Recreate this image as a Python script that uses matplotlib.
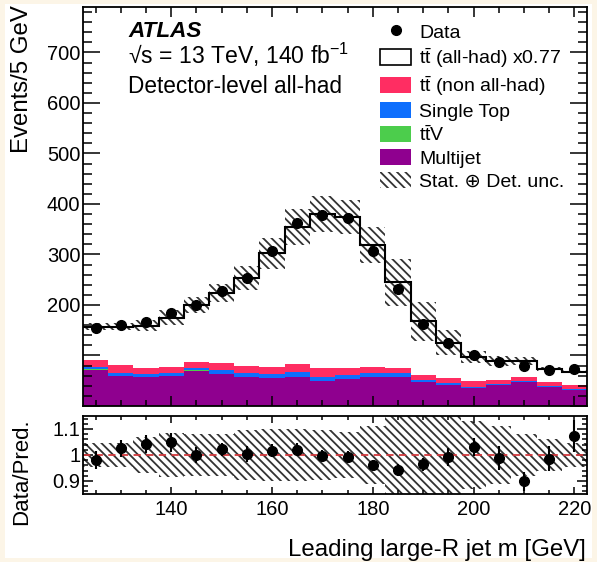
import numpy as np
import matplotlib
matplotlib.use("Agg")
import matplotlib.pyplot as plt
from matplotlib.patches import Patch, Rectangle
from matplotlib.lines import Line2D
from matplotlib.ticker import MultipleLocator, FuncFormatter, FixedLocator, FixedFormatter

plt.rcParams['font.family'] = ['Liberation Sans', 'DejaVu Sans']
plt.rcParams['mathtext.fontset'] = 'custom'
plt.rcParams['mathtext.rm'] = 'Liberation Sans'
plt.rcParams['mathtext.it'] = 'Liberation Sans:italic'
plt.rcParams['mathtext.bf'] = 'Liberation Sans:bold'
plt.rcParams['hatch.linewidth'] = 1.3

# ---- binning (leading large-R jet mass, 5 GeV bins) ----
bin_edges = np.arange(122.5, 223.0, 5.0)

# ---- predicted yields per bin (stacked) ----
multijet = [72, 60, 57, 59, 70, 64, 57, 55, 57, 50, 54, 57, 57, 48, 42, 35, 42, 48, 37, 32]
ttv = [0.3, 0.3, 0.3, 0.3, 0.3, 0.3, 0.3, 0.3, 0.3, 0.3, 0.3, 0.3, 0.3, 0.3, 0.3, 0.3, 0.3,
       0.3, 0.3, 0.3]
single_top = [5.7, 5.7, 5.7, 5.7, 5.7, 6.7, 8.7, 7.7, 10.7, 6.7, 6.7, 8.7, 7.7, 2.7, 2.7, 2.7,
              1.7, 1.7, 1.7, 1.7]
tt_nonallhad = [13, 15, 12, 13, 12, 13.5, 14, 15, 14.5, 18, 14, 12, 10, 10, 10, 11.5, 7, 8, 8,
                7.6]
tt_allhad_scaled = [66, 76, 84, 97, 112, 138.5, 173, 224, 272.5, 305, 300, 241, 170, 107, 70,
                    47.5, 38, 31, 26, 26.4]

# relative stat. (+) detector uncertainty on the total prediction
rel_unc = [0.045, 0.045, 0.07, 0.085, 0.08, 0.08, 0.095, 0.10, 0.10, 0.095, 0.09, 0.11, 0.19,
           0.23, 0.20, 0.13, 0.11, 0.08, 0.06, 0.045]

# ---- observed data ----
data = [154, 161, 166, 183.5, 200, 228, 254, 307, 362, 379, 372, 307, 231, 162, 124, 100, 88,
        80, 72, 73]
data_err = [5.4, 5.3, 5.5, 6.4, 6.4, 5.7, 7.6, 7.7, 9.0, 8.3, 8.2, 6.1, 5.8, 4.1, 4.3, 3.5,
            4.0, 3.2, 3.5, 4.2]

labels = ["Data", r"$\mathrm{t}\bar{\mathrm{t}}$ (all-had) x0.77",
          r"$\mathrm{t}\bar{\mathrm{t}}$ (non all-had)", "Single Top",
          r"$\mathrm{t}\bar{\mathrm{t}}$V", "Multijet", "Stat. \u2295 Det. unc."]
colors = {"multijet": "#8f008f", "ttv": "#4ccd4c", "single_top": "#0d6efd",
          "tt_nonallhad": "#ff2d62"}

centers = 0.5 * (bin_edges[:-1] + bin_edges[1:])
data = np.array(data, float)
data_err = np.array(data_err, float)
rel_unc = np.array(rel_unc, float)

W, H = 597, 562
fig = plt.figure(figsize=(W / 100, H / 100), dpi=100)
fig.patch.set_facecolor("#fcf5e7")
fig.add_artist(Rectangle((5 / W, 4 / H), (W - 10) / W, (H - 8) / H, transform=fig.transFigure,
                         facecolor="white", edgecolor="none", zorder=-10))

def px_axes(l, t, r, b):
    return fig.add_axes([l / W, (H - b) / H, (r - l) / W, (b - t) / H])

ax = px_axes(83, 7, 587, 406)
rax = px_axes(83, 416, 587, 494)

# ---- stacked prediction ----
stack = [("multijet", multijet), ("ttv", ttv), ("single_top", single_top),
         ("tt_nonallhad", tt_nonallhad)]
base = np.zeros(len(centers))
for name, vals in stack:
    top = base + np.array(vals, float)
    ax.stairs(top, bin_edges, baseline=base.copy(), fill=True, color=colors[name],
              linewidth=0, zorder=1)
    base = top
total = base + np.array(tt_allhad_scaled, float)

hatch = "\\\\\\\\"
hcol = "#333333"
ext = lambda a: np.append(a, a[-1])
ax.fill_between(bin_edges, ext(total * (1 - rel_unc)), ext(total * (1 + rel_unc)), step="post",
                facecolor="none", edgecolor=hcol, hatch=hatch, linewidth=0, zorder=2)
ax.stairs(total, bin_edges, baseline=None, color="black", linewidth=1.5, zorder=3)
ax.errorbar(centers, data, yerr=data_err, fmt="o", color="black", markersize=7,
            elinewidth=1.5, capsize=0, zorder=4)

ax.set_xlim(bin_edges[0], bin_edges[-1])
ax.set_ylim(0, 790)
ax.yaxis.set_major_locator(MultipleLocator(100))
ax.yaxis.set_minor_locator(MultipleLocator(20))
ax.yaxis.set_major_formatter(FuncFormatter(lambda v, p: f"{v:.0f}" if v >= 200 else ""))
ax.xaxis.set_major_locator(MultipleLocator(20))
ax.xaxis.set_minor_locator(MultipleLocator(5))
ax.tick_params(axis="x", labelbottom=False)

# ---- ratio panel ----
ratio = data / total
ratio_err = data_err / total
rax.fill_between(bin_edges, ext(1 - rel_unc), ext(1 + rel_unc), step="post",
                 facecolor="none", edgecolor=hcol, hatch=hatch, linewidth=0, zorder=1)
rax.axhline(1.0, color="#d2383c", linestyle=(0, (4, 3)), linewidth=1.3, zorder=2)
rax.errorbar(centers, ratio, yerr=ratio_err, fmt="o", color="black", markersize=7,
             elinewidth=1.5, capsize=0, zorder=3)
rax.set_xlim(bin_edges[0], bin_edges[-1])
rax.set_ylim(0.85, 1.15)
rax.yaxis.set_major_locator(FixedLocator([0.9, 1.0, 1.1]))
rax.yaxis.set_major_formatter(FixedFormatter(["0.9", "1", "1.1"]))
rax.yaxis.set_minor_locator(MultipleLocator(0.02))
rax.xaxis.set_major_locator(MultipleLocator(20))
rax.xaxis.set_minor_locator(MultipleLocator(5))

for a in (ax, rax):
    for s in a.spines.values():
        s.set_linewidth(1.3)
    a.tick_params(which="both", direction="in", top=True, right=True, labelsize=14.5,
                  width=1.1, colors="black")
ax.tick_params(axis="y", which="major", length=12, pad=2)
ax.tick_params(axis="y", which="minor", length=6.5)
ax.tick_params(axis="x", which="major", length=7)
ax.tick_params(axis="x", which="minor", length=4)
rax.tick_params(axis="y", which="major", length=7, pad=2)
rax.tick_params(axis="y", which="minor", length=3.5)
rax.tick_params(axis="x", which="major", length=5, pad=4)
rax.tick_params(axis="x", which="minor", length=3)

# ---- labels ----
fig.text(22 / W, (H - 5) / H, "Events/5 GeV", rotation=90, ha="center", va="top", fontsize=17.3)
fig.text(22 / W, (H - 472) / H, "Data/Pred.", rotation=90, ha="center", va="center",
         fontsize=16)
fig.text(586 / W, (H - 556) / H, "Leading large-R jet m [GeV]", ha="right", va="baseline",
         fontsize=17.3)

fig.text(128 / W, (H - 37) / H, "ATLAS", fontsize=16.2, fontweight="bold", fontstyle="italic",
         va="baseline")
fig.text(128 / W, (H - 64) / H, "\u221As = 13 TeV, 140 fb$^{-1}$", fontsize=16.6,
         va="baseline")
fig.text(128 / W, (H - 93) / H, "Detector-level all-had", fontsize=16.3, va="baseline")

handles = [
    Line2D([], [], marker="o", color="black", linestyle="none", markersize=7),
    Patch(facecolor="white", edgecolor="black", linewidth=1.2),
    Patch(facecolor=colors["tt_nonallhad"], edgecolor="none"),
    Patch(facecolor=colors["single_top"], edgecolor="none"),
    Patch(facecolor=colors["ttv"], edgecolor="none"),
    Patch(facecolor=colors["multijet"], edgecolor="none"),
    Patch(facecolor="white", edgecolor=hcol, hatch=hatch, linewidth=0),
]
fig.legend(handles, labels, loc="upper left", bbox_to_anchor=(380 / W, (H - 23) / H),
           bbox_transform=fig.transFigure, frameon=False, fontsize=14, borderpad=0,
           borderaxespad=0, handlelength=1.6, handleheight=0.9, handletextpad=0.4,
           labelspacing=0.22)

fig.savefig("out.png", dpi=100, facecolor=fig.get_facecolor())
